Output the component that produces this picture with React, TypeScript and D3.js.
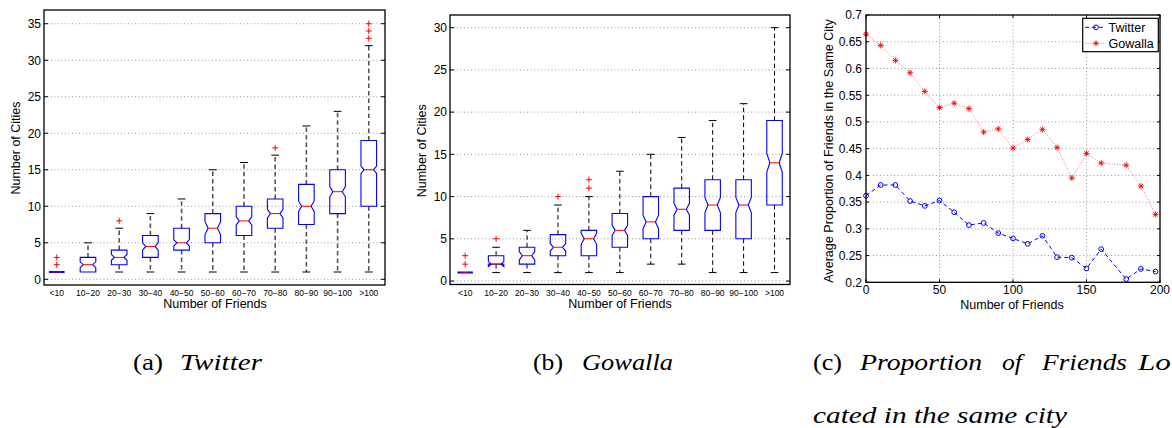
import * as d3 from "d3";

// ---- panel (a) / (b): box plots of number of cities per friend bin ----
const categories = ["<10", "10−20", "20−30", "30−40", "40−50", "50−60", "60−70", "70−80", "80−90", "90−100", ">100"];

const twLow = [1, 1, 1, 1, 1, 1, 1, 1, 1, 1, 1];
const twQ1 = [1, 1, 2, 3, 4, 5, 6, 7, 7.5, 9, 10];
const twMed = [1, 2, 3, 4.5, 5, 7, 8, 9, 10, 12, 15];
const twQ3 = [1, 3, 4, 6, 7, 9, 10, 11, 13, 15, 19];
const twHigh = [1, 5, 7, 9, 11, 15, 16, 17, 21, 23, 32];
const twNotch = [0, 0.4, 0.4, 0.5, 0.45, 0.9, 0.55, 0.6, 0.7, 0.7, 0.5];
const twOutliers = [[2, 3], [], [8], [], [], [], [], [18], [], [], [33, 34, 35]];

const gwLow = [1, 1, 1, 1, 1, 1, 2, 2, 1, 1, 1];
const gwQ1 = [1, 2, 2, 3, 3, 4, 5, 6, 6, 5, 9];
const gwMed = [1, 2, 3, 4, 5, 6, 7, 8.5, 9, 9, 14];
const gwQ3 = [1, 3, 4, 5.5, 6, 8, 10, 11, 12, 12, 19];
const gwHigh = [1, 4, 6, 9, 10, 13, 15, 17, 19, 21, 30];
const gwNotch = [0, 0.3, 0.5, 0.45, 0.65, 0.6, 0.8, 0.7, 0.9, 0.9, 1.1];
const gwOutliers = [[2, 3], [5], [], [10], [11, 12], [], [], [], [], [], []];

const twYTicks = [0, 5, 10, 15, 20, 25, 30, 35];
const gwYTicks = [0, 5, 10, 15, 20, 25, 30];

// ---- panel (c): proportion of friends in same city ----
const friendCounts = [0, 10, 20, 30, 40, 50, 60, 70, 80, 90, 100, 110, 120, 130, 140, 150, 160, 177, 187, 197];
const twitterProp = [0.362, 0.382, 0.382, 0.352, 0.343, 0.353, 0.331, 0.307, 0.311, 0.292, 0.282, 0.272, 0.287, 0.247, 0.246, 0.226, 0.262, 0.206, 0.225, 0.22];
const gowallaProp = [0.664, 0.643, 0.615, 0.592, 0.557, 0.527, 0.535, 0.525, 0.481, 0.487, 0.451, 0.467, 0.486, 0.452, 0.395, 0.441, 0.423, 0.419, 0.38, 0.327];
const propXTicks = [0, 50, 100, 150, 200];
const propYTicks = [0.2, 0.25, 0.3, 0.35, 0.4, 0.45, 0.5, 0.55, 0.6, 0.65, 0.7];

const SANS = "Liberation Sans, Arial, Helvetica, sans-serif";
const SERIF = "Liberation Serif, Times New Roman, serif";

type Frame = { left: number; right: number; top: number; bottom: number };

function BoxPanel(props: {
  frame: Frame;
  xDomain: [number, number];
  yDomain: [number, number];
  yTicks: number[];
  low: number[]; q1: number[]; med: number[]; q3: number[]; high: number[];
  notch: number[]; outliers: number[][];
  whiskerColor: string; whiskerWidth: number;
  yLabelX: number; yLabelY: number; xLabelX: number;
}) {
  const { frame: f } = props;
  const x = d3.scaleLinear().domain(props.xDomain).range([f.left, f.right]);
  const y = d3.scaleLinear().domain(props.yDomain).range([f.bottom, f.top]);
  const hw = x(0.25) - x(0);
  const capHw = x(0.125) - x(0);
  const inset = hw * 0.4;

  return (
    <g>
      {/* grid */}
      {props.yTicks.map((t) => (
        <line key={"g" + t} x1={f.left} x2={f.right} y1={y(t)} y2={y(t)} stroke="#999" strokeDasharray="1,2.5" />
      ))}
      {/* boxes */}
      {categories.map((c, i) => {
        const cx = x(i + 1);
        const lo = props.low[i], a = props.q1[i], m = props.med[i], b = props.q3[i], hi = props.high[i];
        const n = props.notch[i];
        let pts: [number, number][];
        if (n > 0) {
          pts = [
            [cx - hw, y(a)], [cx - hw, y(m - n)], [cx - hw + inset, y(m)], [cx - hw, y(m + n)], [cx - hw, y(b)],
            [cx + hw, y(b)], [cx + hw, y(m + n)], [cx + hw - inset, y(m)], [cx + hw, y(m - n)], [cx + hw, y(a)],
          ];
        } else {
          pts = [[cx - hw, y(a)], [cx - hw, y(b)], [cx + hw, y(b)], [cx + hw, y(a)]];
        }
        const boxPath = d3.line()(pts) + "Z";
        return (
          <g key={c}>
            {hi > b && (
              <>
                <line x1={cx} x2={cx} y1={y(b)} y2={y(hi)} stroke={props.whiskerColor} strokeWidth={props.whiskerWidth} strokeDasharray="4.5,3" />
                <line x1={cx - capHw} x2={cx + capHw} y1={y(hi)} y2={y(hi)} stroke="#000" strokeWidth={1} />
              </>
            )}
            {lo < a && (
              <>
                <line x1={cx} x2={cx} y1={y(a)} y2={y(lo)} stroke={props.whiskerColor} strokeWidth={props.whiskerWidth} strokeDasharray="4.5,3" />
                <line x1={cx - capHw} x2={cx + capHw} y1={y(lo)} y2={y(lo)} stroke="#000" strokeWidth={1} />
              </>
            )}
            <path d={boxPath} fill="none" stroke="#0000ff" strokeWidth={a === b ? 2 : 1.1} />
            <line x1={cx - hw + inset} x2={cx + hw - inset} y1={y(m)} y2={y(m)} stroke={a === b ? "#aa0066" : "#ff0000"} strokeWidth={1} />
            {props.outliers[i].map((o) => (
              <path key={o} d={`M${cx - 3},${y(o)}H${cx + 3}M${cx},${y(o) - 3}V${y(o) + 3}`} stroke="#ff0000" strokeWidth={1} />
            ))}
          </g>
        );
      })}
      {/* frame */}
      <rect x={f.left} y={f.top} width={f.right - f.left} height={f.bottom - f.top} fill="none" stroke="#000" strokeWidth={1.3} />
      {props.yTicks.map((t) => (
        <g key={"t" + t}>
          <line x1={f.left} x2={f.left + 4} y1={y(t)} y2={y(t)} stroke="#000" />
          <line x1={f.right - 4} x2={f.right} y1={y(t)} y2={y(t)} stroke="#000" />
          <text x={f.left - 3} y={y(t)} dy="0.36em" textAnchor="end" fontSize={12} fontFamily={SANS}>{t}</text>
        </g>
      ))}
      {categories.map((c, i) => (
        <text key={"x" + c} x={x(i + 1)} y={295.5} textAnchor="middle" fontSize={8.5} fontFamily={SANS}>{c}</text>
      ))}
      <text x={props.xLabelX} y={308} textAnchor="middle" fontSize={12.5} fontFamily={SANS}>Number of Friends</text>
      <text transform={`translate(${props.yLabelX},${props.yLabelY}) rotate(-90)`} dy="0.36em" textAnchor="middle" fontSize={12.5} fontFamily={SANS}>Number of Cities</text>
    </g>
  );
}

function asterisk(cx: number, cy: number, r: number) {
  const d = r * 0.707;
  return `M${cx - r},${cy}H${cx + r}M${cx},${cy - r}V${cy + r}M${cx - d},${cy - d}L${cx + d},${cy + d}M${cx - d},${cy + d}L${cx + d},${cy - d}`;
}

function PropPanel() {
  const f: Frame = { left: 866, right: 1160, top: 15, bottom: 282.3 };
  const x = d3.scaleLinear().domain([0, 200]).range([f.left, f.right]);
  const y = d3.scaleLinear().domain([0.2, 0.7]).range([f.bottom, f.top]);
  const line = d3.line<number>().x((_, i) => x(friendCounts[i])).y((d) => y(d));
  const fmt = (v: number) => String(+v.toFixed(2));

  return (
    <g>
      {propYTicks.map((t) => (
        <line key={"gy" + t} x1={f.left} x2={f.right} y1={y(t)} y2={y(t)} stroke="#999" strokeDasharray="1,2.5" />
      ))}
      {propXTicks.map((t) => (
        <line key={"gx" + t} x1={x(t)} x2={x(t)} y1={f.top} y2={f.bottom} stroke="#999" strokeDasharray="1,2.5" />
      ))}
      <path d={line(gowallaProp) || ""} fill="none" stroke="#ff6060" strokeWidth={0.9} strokeDasharray="1,1.6" />
      {gowallaProp.map((v, i) => (
        <path key={"gp" + i} d={asterisk(x(friendCounts[i]), y(v), 3)} stroke="#ff0000" strokeWidth={0.9} />
      ))}
      <path d={line(twitterProp) || ""} fill="none" stroke="#0000ff" strokeWidth={1} strokeDasharray="4,3" />
      {twitterProp.map((v, i) => (
        <circle key={"tp" + i} cx={x(friendCounts[i])} cy={y(v)} r={2.4} fill="none" stroke="#0000ff" strokeWidth={1} />
      ))}
      <rect x={f.left} y={f.top} width={f.right - f.left} height={f.bottom - f.top} fill="none" stroke="#000" strokeWidth={1.3} />
      {propYTicks.map((t) => (
        <g key={"ty" + t}>
          <line x1={f.left} x2={f.left + 3} y1={y(t)} y2={y(t)} stroke="#000" />
          <line x1={f.right - 3} x2={f.right} y1={y(t)} y2={y(t)} stroke="#000" />
          <text x={862} y={y(t)} dy="0.36em" textAnchor="end" fontSize={12} fontFamily={SANS}>{fmt(t)}</text>
        </g>
      ))}
      {propXTicks.map((t) => (
        <g key={"tx" + t}>
          <line x1={x(t)} x2={x(t)} y1={f.bottom} y2={f.bottom - 3} stroke="#000" />
          <line x1={x(t)} x2={x(t)} y1={f.top} y2={f.top + 3} stroke="#000" />
          <text x={x(t)} y={294} textAnchor="middle" fontSize={12} fontFamily={SANS}>{t}</text>
        </g>
      ))}
      <text x={1012} y={309} textAnchor="middle" fontSize={12.5} fontFamily={SANS}>Number of Friends</text>
      <text transform="translate(828.3,151) rotate(-90)" dy="0.36em" textAnchor="middle" fontSize={12.6} fontFamily={SANS}>
        Average Proportion of Friends in the Same City
      </text>
      {/* legend */}
      <rect x={1082.7} y={18.3} width={75.6} height={33.4} fill="#fff" stroke="#000" strokeWidth={1.2} />
      <line x1={1085} x2={1106} y1={27.3} y2={27.3} stroke="#0000ff" strokeDasharray="4,3" />
      <circle cx={1096} cy={27.3} r={2.4} fill="none" stroke="#0000ff" />
      <text x={1108.5} y={27.3} dy="0.36em" fontSize={12.5} fontFamily={SANS}>Twitter</text>
      <line x1={1085} x2={1106} y1={43.3} y2={43.3} stroke="#ff6060" strokeWidth={0.9} strokeDasharray="1,1.6" />
      <path d={asterisk(1096, 43.3, 3)} stroke="#ff0000" strokeWidth={0.9} />
      <text x={1108.5} y={43.3} dy="0.36em" fontSize={12.5} fontFamily={SANS}>Gowalla</text>
    </g>
  );
}

function Caption(props: { x: number; y: number; w: number; italic?: boolean; children: string }) {
  return (
    <text x={props.x} y={props.y} fontSize={23} fontFamily={SERIF} fontStyle={props.italic ? "italic" : "normal"}
      textLength={props.w} lengthAdjust="spacingAndGlyphs">
      {props.children}
    </text>
  );
}

export default function App() {
  return (
    <svg width={1172} height={428} style={{ position: "absolute", left: 0, top: 0, background: "#fff" }}>
      <rect width={1172} height={428} fill="#fff" />
      <BoxPanel
        frame={{ left: 44, right: 385, top: 10, bottom: 285 }}
        xDomain={[0.59, 11.52]} yDomain={[-0.78, 36.88]} yTicks={twYTicks}
        low={twLow} q1={twQ1} med={twMed} q3={twQ3} high={twHigh} notch={twNotch} outliers={twOutliers}
        whiskerColor="#555" whiskerWidth={1.6}
        yLabelX={15} yLabelY={148} xLabelX={215}
      />
      <BoxPanel
        frame={{ left: 450, right: 790, top: 15, bottom: 284.5 }}
        xDomain={[0.51, 11.5]} yDomain={[-0.41, 31.5]} yTicks={gwYTicks}
        low={gwLow} q1={gwQ1} med={gwMed} q3={gwQ3} high={gwHigh} notch={gwNotch} outliers={gwOutliers}
        whiskerColor="#000" whiskerWidth={1}
        yLabelX={421.7} yLabelY={150.8} xLabelX={620}
      />
      <PropPanel />
      <Caption x={133} y={370} w={30}>(a)</Caption>
      <Caption x={180} y={370} w={82} italic>Twitter</Caption>
      <Caption x={533} y={370} w={30}>(b)</Caption>
      <Caption x={582} y={370} w={91} italic>Gowalla</Caption>
      <Caption x={813} y={370} w={29}>(c)</Caption>
      <Caption x={860} y={370} w={122} italic>Proportion</Caption>
      <Caption x={1002} y={370} w={20} italic>of</Caption>
      <Caption x={1042} y={370} w={85} italic>Friends</Caption>
      <Caption x={1138} y={370} w={33} italic>Lo</Caption>
      <Caption x={813} y={423} w={254} italic>cated in the same city</Caption>
    </svg>
  );
}
